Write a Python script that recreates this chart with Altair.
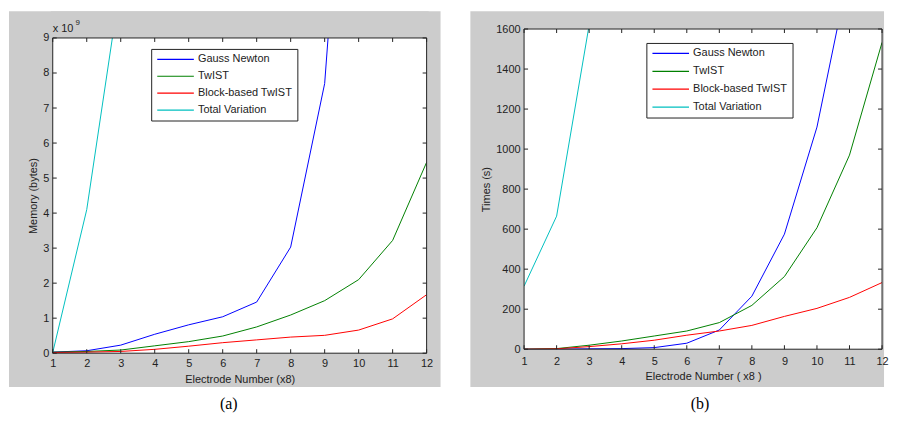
import altair as alt
import pandas as pd

electrodes = list(range(1, 13))
series = ["Gauss Newton", "TwIST", "Block-based TwIST", "Total Variation"]
colors = ["#0000ff", "#008000", "#ff0000", "#00bfbf"]

# Memory (x 10^9 bytes)
mem_gauss = [0.03, 0.07, 0.23, 0.54, 0.81, 1.04, 1.46, 3.03, 7.7, 20.7]
mem_twist = [0.03, 0.05, 0.09, 0.21, 0.33, 0.49, 0.75, 1.09, 1.5, 2.1, 3.22, 5.45]
mem_block = [0.02, 0.03, 0.05, 0.11, 0.2, 0.3, 0.38, 0.46, 0.51, 0.66, 0.98, 1.67]
mem_tv = [0.02, 4.1, 10.6]

# Times (s)
time_gauss = [0, 0, 2, 3, 8, 30, 96, 265, 575, 1110, 1900]
time_twist = [0, 3, 20, 41, 66, 91, 133, 219, 363, 607, 970, 1533]
time_block = [0, 2, 13, 27, 45, 70, 91, 119, 164, 204, 259, 333]
time_tv = [315, 665, 1620]

mem_ticks = [0, 1, 2, 3, 4, 5, 6, 7, 8, 9]
time_ticks = [0, 200, 400, 600, 800, 1000, 1200, 1400, 1600]

FONT = "Liberation Sans"
INK = "#222222"
GREY = "#cccccc"


def long_df(lists):
    rows = []
    for name, vals in zip(series, lists):
        for xv, yv in zip(electrodes, vals):
            rows.append({"series": name, "x": xv, "y": yv})
    return pd.DataFrame(rows)


def panel(lists, W, H, top, ydom, yticks, ytitle, xtitle, grey, leg, caption, cap,
          xlabpad, xtitlepad, ytitlepad, extra=None):
    # H is the group height; plot area spans y from `top` to H
    gl, gt, gr, gb = grey
    one = alt.Data(values=[{}])
    xs = alt.Scale(domain=[1, 12], nice=False, zero=False)
    ys = alt.Scale(domain=ydom, nice=False, zero=False, range=[H, top])

    xaxis = alt.Axis(values=electrodes, tickSize=0, domain=False, grid=False,
                     labelPadding=xlabpad, title=xtitle, titlePadding=xtitlepad,
                     labelFont=FONT, labelFontSize=11, labelColor=INK,
                     titleFont=FONT, titleFontSize=11, titleFontWeight="normal",
                     titleColor=INK, zindex=1, labelFlush=False)
    yaxis = alt.Axis(values=yticks, tickSize=0, domain=False, grid=False, format="d",
                     labelPadding=4, title=ytitle, titlePadding=ytitlepad,
                     labelFont=FONT, labelFontSize=11, labelColor=INK,
                     titleFont=FONT, titleFontSize=11, titleFontWeight="normal",
                     titleColor=INK, zindex=1, labelFlush=False)

    bg = alt.Chart(one).mark_rect(fill=GREY).encode(
        x=alt.value(-gl), x2=alt.value(W + gr), y=alt.value(-gt), y2=alt.value(H + gb))
    plot_bg = alt.Chart(one).mark_rect(fill="white").encode(
        x=alt.value(0), x2=alt.value(W), y=alt.value(top), y2=alt.value(H))

    lines = alt.Chart(long_df(lists)).mark_line(clip=True, strokeWidth=1).encode(
        x=alt.X("x:Q", scale=xs, axis=xaxis),
        y=alt.Y("y:Q", scale=ys, axis=yaxis),
        color=alt.Color("series:N", sort=series,
                        scale=alt.Scale(domain=series, range=colors),
                        legend=alt.Legend(orient="none", legendX=leg[0], legendY=leg[1],
                                          title=None, strokeColor=INK, fillColor="white",
                                          padding=5, cornerRadius=0,
                                          symbolType="M-4.6,0H4.6", symbolSize=64,
                                          symbolStrokeWidth=1.2, symbolOffset=14,
                                          labelOffset=17, labelFont=FONT,
                                          labelFontSize=11, labelColor=INK,
                                          rowPadding=leg[2])),
    )

    layers = [bg, plot_bg, lines]
    if top > 0:
        cover = alt.Chart(one).mark_rect(fill=GREY).encode(
            x=alt.value(-2), x2=alt.value(W + 2), y=alt.value(-gt), y2=alt.value(top))
        layers.append(cover)

    border = alt.Chart(one).mark_rect(fillOpacity=0, stroke=INK, strokeWidth=1).encode(
        x=alt.value(0), x2=alt.value(W), y=alt.value(top), y2=alt.value(H))

    xt = pd.DataFrame({"x": electrodes})
    yt = pd.DataFrame({"y": yticks})
    tb = alt.Chart(xt).mark_rule(color=INK, strokeWidth=1).encode(
        x=alt.X("x:Q", scale=xs, axis=xaxis), y=alt.value(H), y2=alt.value(H - 4))
    tt = alt.Chart(xt).mark_rule(color=INK, strokeWidth=1).encode(
        x=alt.X("x:Q", scale=xs, axis=xaxis), y=alt.value(top), y2=alt.value(top + 4))
    tl = alt.Chart(yt).mark_rule(color=INK, strokeWidth=1).encode(
        y=alt.Y("y:Q", scale=ys, axis=yaxis), x=alt.value(0), x2=alt.value(4))
    tr = alt.Chart(yt).mark_rule(color=INK, strokeWidth=1).encode(
        y=alt.Y("y:Q", scale=ys, axis=yaxis), x=alt.value(W), x2=alt.value(W - 4))

    capt = alt.Chart(one).mark_text(font="Liberation Serif", fontSize=16, color="black",
                                    align="center", baseline="middle").encode(
        x=alt.value(cap[0]), y=alt.value(cap[1]), text=alt.value(caption))

    layers += [border, tb, tt, tl, tr, capt]
    if extra:
        layers += extra
    return alt.layer(*layers).properties(width=W, height=H)


one = alt.Data(values=[{}])
exp_base = alt.Chart(one).mark_text(font=FONT, fontSize=11, color=INK, align="left",
                                    baseline="alphabetic").encode(
    x=alt.value(0), y=alt.value(3), text=alt.value("x 10"))
exp_sup = alt.Chart(one).mark_text(font=FONT, fontSize=8, color=INK, align="left",
                                   baseline="alphabetic").encode(
    x=alt.value(23), y=alt.value(-4), text=alt.value("9"))

pa = panel([mem_gauss, mem_twist, mem_block, mem_tv], 376, 326, 9, [0, 9], mem_ticks,
           "Memory (bytes)", "Electrode Number (x8)", (44, 18, 14, 34), (99, 20, 5),
           "(a)", (177, 377), 4, 5, 4, extra=[exp_base, exp_sup])
pb = panel([time_gauss, time_twist, time_block, time_tv], 360, 322, 0, [0, 1600], time_ticks,
           "Times (s)", "Electrode Number ( x8 )", (54, 18, 2, 38), (123, 14, 6),
           "(b)", (177, 377), 6, 4, 4)

chart = alt.hconcat(pa, pb, spacing=30).resolve_scale(
    color="independent", x="independent", y="independent"
).properties(
    padding={"left": 1, "top": 2, "right": 0, "bottom": 0}, background="white"
).configure_view(stroke=None)

chart.save("out.html", embed_options={"renderer": "svg", "actions": False})
